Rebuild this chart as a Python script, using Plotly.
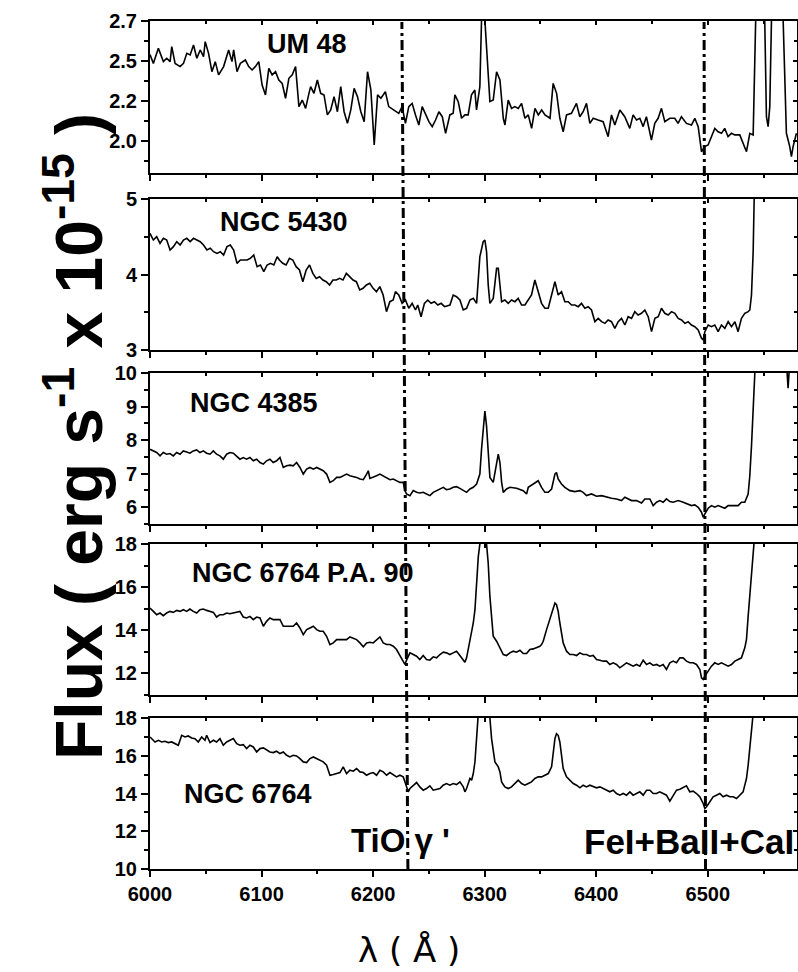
import plotly.graph_objects as go

# ---------------- data ----------------
wl_um48 = [6000, 6003, 6007.5, 6012, 6015, 6018, 6019.5, 6022.5, 6027, 6030, 6033, 6036, 6039, 6042, 6045, 6048, 6049.5, 6052.5, 6055.5, 6058.5,
           6061.5, 6066, 6070.5, 6073.5, 6075, 6078, 6081, 6084, 6085.5, 6088.5, 6091.5, 6094.5, 6097.5, 6100.5, 6103.5, 6106.5, 6109.5, 6112.5, 6115.5, 6118.5,
           6121.5, 6124.5, 6127.5, 6130.5, 6133.5, 6136.5, 6139.5, 6142.5, 6144, 6147, 6150, 6153, 6156, 6159, 6162, 6165, 6168, 6171, 6174, 6177,
           6180, 6183, 6186, 6189, 6192, 6195, 6198, 6201, 6204, 6207, 6211, 6214, 6219, 6223, 6226, 6229, 6232, 6235, 6238, 6241,
           6244, 6247, 6250, 6253, 6256, 6259, 6262, 6265,
           6268.8, 6271.8, 6273.3, 6276.3, 6279.3, 6282.3, 6285.2, 6288.2, 6291.2, 6292.7, 6295.7, 6297.2, 6298.7, 6300.2, 6303.2, 6304.7, 6307.7, 6310.7, 6313.7, 6316.7,
           6318.2, 6321.1, 6324.1, 6327.1, 6330.1, 6333.1, 6336.1, 6339.1, 6342.1, 6345.1, 6348.1, 6351.1, 6354.1, 6358.6, 6361.4, 6364.5, 6367.4, 6370.4, 6373.4, 6377.8,
           6382.3, 6385.3, 6388.3, 6391.3, 6394.3, 6397.3, 6401.7, 6406.2, 6410.7, 6413.7, 6416.7, 6421.2, 6425.6, 6430.1, 6433.1, 6436.1, 6439.1, 6442.1, 6445.0, 6449.5,
           6452.5, 6455.5, 6458.5, 6461.5, 6466.0, 6470.4, 6473.4, 6476.4, 6480.9, 6485.4, 6488.4, 6491.4, 6494.4, 6497.3, 6500.3, 6503.3, 6506.3, 6509.3, 6512.3, 6515.2,
           6518.2, 6521.2, 6524.2, 6528.7, 6531.7, 6534.7, 6537.7, 6540.7, 6543.1, 6546.6, 6549.5, 6551.1, 6552.6, 6554.1, 6555.6, 6557.1, 6561.6, 6566.0, 6567.6, 6570.5,
           6573.5, 6575.0, 6576.5, 6579.5]
fx_um48 = [2.490, 2.435, 2.529, 2.446, 2.467, 2.446, 2.540, 2.435, 2.415, 2.435, 2.498, 2.488, 2.550, 2.467, 2.519, 2.477, 2.571, 2.498, 2.383, 2.446,
           2.363, 2.415, 2.519, 2.446, 2.519, 2.383, 2.435, 2.446, 2.456, 2.415, 2.394, 2.415, 2.446, 2.300, 2.238, 2.404, 2.363, 2.383, 2.331, 2.310,
           2.217, 2.342, 2.363, 2.415, 2.165, 2.206, 2.154, 2.248, 2.290, 2.248, 2.331, 2.248, 2.238, 2.113, 2.144, 2.227, 2.133, 2.290, 2.133, 2.060,
           2.144, 2.279, 2.227, 2.133, 2.071, 2.383, 2.269, 1.925, 2.238, 2.217, 2.258, 2.165, 2.144, 2.123, 2.165, 2.060, 2.165, 2.185, 2.113, 2.050,
           2.165, 2.113, 2.071, 2.040, 2.081, 2.133, 2.102, 1.998,
           2.113, 2.123, 2.238, 2.196, 2.092, 2.113, 2.113, 2.238, 2.269, 2.144, 2.290, 2.706, 3.100, 2.706, 2.310, 2.196, 2.206, 2.383, 2.331, 2.092,
           2.050, 2.206, 2.154, 2.165, 2.154, 2.185, 2.092, 2.113, 2.029, 2.154, 2.113, 2.144, 2.113, 2.092, 2.310, 2.248, 2.092, 2.008, 2.113, 2.123,
           2.185, 2.102, 2.133, 2.185, 2.060, 2.092, 2.081, 2.071, 1.977, 2.113, 2.050, 2.144, 2.102, 2.029, 2.113, 2.081, 2.092, 2.040, 2.102, 1.956,
           2.060, 2.092, 2.154, 2.071, 2.092, 2.092, 2.060, 2.102, 2.060, 2.050, 2.092, 2.040, 1.883, 1.915, 1.925, 1.977, 2.029, 2.008, 1.998, 2.029,
           1.977, 1.998, 1.988, 1.988, 1.935, 1.883, 1.998, 1.988, 2.750, 3.400, 3.000, 2.700, 2.102, 2.040, 2.165, 2.700, 3.600, 3.200, 2.700, 1.998,
           1.915, 1.852, 1.915, 1.998]

wl_n5430 = [6000, 6003, 6006, 6009, 6012, 6015, 6018, 6021, 6024, 6027, 6030, 6033, 6036, 6039, 6042, 6045, 6048, 6051, 6054, 6057,
            6060, 6063, 6066, 6069, 6072, 6075, 6078, 6081, 6084, 6087, 6090, 6093, 6096, 6099, 6102, 6105, 6108, 6111, 6114, 6116,
            6119, 6122, 6125, 6128, 6131, 6134, 6137, 6140, 6143, 6146, 6149, 6152, 6155, 6158, 6161, 6164, 6167, 6170, 6173, 6176,
            6179, 6182, 6185, 6188, 6191, 6194, 6197, 6200, 6203, 6206, 6209, 6212, 6215, 6218, 6220, 6223, 6226, 6229, 6232, 6235,
            6238, 6240, 6243, 6246, 6249, 6252, 6255, 6258, 6261, 6264,
            6268.9, 6271.8, 6274.8, 6277.8, 6280.8, 6283.8, 6286.8, 6289.8, 6292.8, 6295.7, 6298.7, 6300.2, 6301.7, 6303.2, 6304.7, 6307.7, 6310.7, 6312.2, 6313.7, 6315.2,
            6318.1, 6321.1, 6324.1, 6327.1, 6330.1, 6333.1, 6336.1, 6339.1, 6342.0, 6345.0, 6348.0, 6351.0, 6354.0, 6357.0, 6360.0, 6363.0, 6365.9, 6368.9, 6371.9, 6374.9,
            6377.9, 6380.9, 6383.9, 6386.8, 6389.8, 6392.8, 6395.8, 6398.8, 6401.8, 6404.8, 6407.8, 6410.7, 6413.7, 6416.7, 6419.7, 6422.7, 6425.7, 6428.7, 6431.7, 6434.6,
            6437.6, 6440.6, 6443.6, 6446.6, 6449.6, 6452.6, 6455.6, 6458.5, 6461.5, 6464.5, 6467.5, 6470.5, 6473.5, 6476.5, 6479.5, 6482.4, 6485.4, 6488.4, 6491.4, 6494.4,
            6495.9, 6497.4, 6500.4, 6503.3, 6506.3, 6509.3, 6512.3, 6515.3, 6518.3, 6521.3, 6524.3, 6527.2, 6530.2, 6533.2, 6536.2, 6537.7, 6539.2, 6540.7, 6541.6, 6545,
            6560, 6580]
fx_n5430 = [4.545, 4.457, 4.501, 4.413, 4.479, 4.457, 4.325, 4.369, 4.435, 4.391, 4.457, 4.479, 4.435, 4.479, 4.457, 4.435, 4.391, 4.325, 4.347, 4.302,
            4.280, 4.302, 4.258, 4.369, 4.391, 4.325, 4.148, 4.192, 4.192, 4.192, 4.214, 4.258, 4.104, 4.126, 4.037, 4.126, 4.148, 4.126, 4.236, 4.192,
            4.148, 4.126, 4.214, 4.192, 4.104, 4.060, 3.905, 4.060, 4.126, 4.015, 3.949, 3.971, 3.927, 3.905, 3.861, 3.927, 3.927, 3.949, 3.927, 4.015,
            3.971, 3.927, 3.905, 3.795, 3.817, 3.861, 3.883, 3.817, 3.773, 3.839, 3.728, 3.508, 3.640, 3.662, 3.773, 3.728, 3.618, 3.662, 3.552, 3.618,
            3.530, 3.596, 3.441, 3.618, 3.662, 3.618, 3.640, 3.596, 3.618, 3.574,
            3.596, 3.728, 3.706, 3.662, 3.530, 3.552, 3.662, 3.684, 3.618, 4.236, 4.435, 4.457, 4.302, 3.861, 3.618, 3.684, 4.082, 4.082, 3.861, 3.640,
            3.662, 3.618, 3.662, 3.640, 3.684, 3.596, 3.596, 3.662, 3.728, 3.927, 3.773, 3.618, 3.552, 3.552, 3.728, 3.905, 3.728, 3.773, 3.640, 3.640,
            3.596, 3.596, 3.574, 3.618, 3.552, 3.574, 3.530, 3.375, 3.419, 3.375, 3.353, 3.397, 3.375, 3.287, 3.375, 3.419, 3.331, 3.441, 3.419, 3.508,
            3.464, 3.486, 3.530, 3.441, 3.243, 3.419, 3.441, 3.552, 3.486, 3.464, 3.508, 3.486, 3.419, 3.397, 3.353, 3.375, 3.331, 3.309, 3.265, 3.155,
            3.132, 3.243, 3.331, 3.309, 3.331, 3.243, 3.331, 3.287, 3.375, 3.309, 3.375, 3.243, 3.419, 3.486, 3.508, 3.530, 3.728, 4.302, 5.000, 6.5,
            9.0, 8.0]

wl_n4385 = [6000.0, 6003.0, 6006.0, 6009.0, 6011.9, 6014.9, 6017.9, 6020.9, 6023.9, 6026.9, 6029.9, 6032.9, 6035.8, 6038.8, 6041.8, 6044.8, 6047.8, 6050.8, 6053.8, 6056.8,
            6059.7, 6062.7, 6065.7, 6068.7, 6071.7, 6074.7, 6077.7, 6080.6, 6083.6, 6086.6, 6089.6, 6092.6, 6095.6, 6098.6, 6101.6, 6104.5, 6107.5, 6110.5, 6113.5, 6116.5,
            6119.5, 6122.5, 6125.5, 6128.4, 6131.4, 6134.4, 6137.4, 6140.4, 6143.4, 6146.4, 6149.4, 6152.3, 6155.3, 6158.3, 6161.3, 6164.3, 6167.3, 6170.3, 6173.2, 6176.2,
            6179.2, 6182.2, 6185.2, 6188.2, 6191.2, 6194.2, 6195.7, 6197.1, 6200.1, 6203.1, 6206.1,
            6209.1, 6212.1, 6215.1, 6218.1, 6221.0, 6224.0, 6227.0, 6228.5, 6230.0, 6233.0, 6236.0,
            6239.0, 6241.9, 6244.9, 6247.9, 6250.9, 6253.9, 6256.9, 6259.9, 6262.9, 6265.8, 6268.8,
            6271.8, 6274.8, 6277.8, 6280.8, 6283.8, 6286.8, 6289.8, 6292.8, 6295.7, 6297.2, 6298.7, 6300.2, 6301.7, 6303.2, 6304.7, 6307.7, 6310.7, 6312.2, 6313.7, 6315.2,
            6316.7, 6319.6, 6322.6, 6328.6, 6334.6, 6337.6, 6339.1, 6342.0, 6345.0, 6348.0, 6351.0, 6354.0, 6357.0, 6360.0, 6363.0, 6364.4, 6365.9, 6368.9, 6371.9, 6376.4,
            6380.9, 6385.4, 6388.3, 6391.3, 6395.8, 6400.3, 6404.8, 6409.3, 6413.7, 6418.2, 6422.7, 6425.7, 6428.7, 6431.7, 6436.1, 6440.6, 6443.6, 6448.1, 6451.1, 6454.1,
            6457.0, 6460.0, 6463.0, 6466.0, 6469.0, 6473.5, 6478.0, 6482.4, 6485.4, 6488.4, 6491.4, 6494.4, 6495.9, 6497.4, 6500.4, 6503.3, 6506.3, 6509.3, 6512.3, 6515.3,
            6518.3, 6521.3, 6524.3, 6527.2, 6530.2, 6533.2, 6536.2, 6537.7, 6539.2, 6540.7, 6542.2, 6550, 6565, 6570, 6572, 6574, 6580]
fx_n4385 = [7.728, 7.679, 7.630, 7.531, 7.630, 7.580, 7.600, 7.531, 7.630, 7.580, 7.679, 7.649, 7.610, 7.679, 7.709, 7.630, 7.679, 7.610, 7.580, 7.679,
            7.580, 7.531, 7.432, 7.580, 7.630, 7.610, 7.531, 7.432, 7.481, 7.432, 7.481, 7.383, 7.432, 7.333, 7.284, 7.383, 7.432, 7.333, 7.383, 7.481,
            7.185, 7.235, 7.254, 7.235, 7.333, 7.185, 6.988, 7.136, 7.185, 7.136, 7.185, 7.136, 7.086, 6.988, 6.741, 6.790, 6.889, 6.889, 6.938, 6.988,
            6.938, 6.919, 6.889, 6.840, 6.820, 6.988, 7.086, 6.859, 6.889, 6.938, 6.988,
            6.938, 6.889, 6.820, 6.840, 6.790, 6.741, 6.741, 6.494, 6.395, 6.346, 6.494,
            6.444, 6.425, 6.444, 6.395, 6.346, 6.444, 6.494, 6.543, 6.593, 6.523, 6.543,
            6.593, 6.612, 6.563, 6.494, 6.444, 6.543, 6.593, 6.691, 6.988, 7.728, 8.420, 8.864, 8.420, 7.531, 6.889, 6.741, 7.235, 7.580, 7.333, 6.741,
            6.444, 6.543, 6.593, 6.563, 6.494, 6.395, 6.593, 6.662, 6.741, 6.790, 6.593, 6.444, 6.444, 6.543, 6.988, 7.037, 6.840, 6.691, 6.593, 6.494,
            6.464, 6.494, 6.444, 6.346, 6.395, 6.326, 6.346, 6.296, 6.267, 6.247, 6.198, 6.296, 6.247, 6.198, 6.198, 6.128, 6.247, 6.247, 6.049, 6.148,
            6.198, 6.148, 6.247, 6.168, 6.148, 6.198, 6.148, 6.099, 6.049, 6.069, 6.000, 5.852, 5.704, 5.802, 5.970, 6.049, 6.000, 6.049, 6.000, 5.970,
            6.049, 6.049, 6.049, 6.049, 6.148, 6.148, 6.395, 6.938, 7.827, 9.210, 10.000, 12.0, 14.0, 10.6, 9.55, 10.6, 12.0]

wl_n6764pa = [6000.0, 6003.0, 6006.0, 6009.0, 6011.9, 6014.9, 6017.9, 6020.9, 6023.9, 6026.9, 6029.9, 6032.9, 6035.8, 6038.8, 6041.8, 6044.8, 6047.8, 6050.8, 6053.8, 6056.8,
              6059.7, 6062.7, 6065.7, 6068.7, 6071.7, 6074.7, 6077.7, 6080.6, 6083.6, 6086.6, 6089.6, 6092.6, 6095.6, 6098.6, 6101.6, 6104.5, 6107.5, 6110.5, 6113.5, 6116.5,
              6119.5, 6122.5, 6125.5, 6128.4, 6131.4, 6134.4, 6137.4, 6140.4, 6143.4, 6146.4, 6149.4, 6152.3, 6155.3, 6158.3, 6161.3, 6164.3, 6167.3, 6170.3, 6173.2, 6176.2,
              6179.2, 6182.2, 6185.2, 6188.2, 6191.2, 6194.2, 6197.1, 6200.1, 6203.1, 6206.1, 6209.1, 6212.1, 6215.1, 6218.1, 6221.0, 6224.0, 6227.0, 6228.5,
              6230.0, 6233.0, 6236.0, 6239.0, 6241.9, 6244.9, 6247.9, 6250.9, 6253.9, 6256.9, 6259.9, 6262.9, 6265.8, 6268.8,
              6271.8, 6274.8, 6277.8, 6280.8, 6282.3, 6283.8, 6286.8, 6289.8, 6291.3, 6292.8, 6294.3, 6295.7, 6298.7, 6301.7, 6303.2, 6304.7, 6307.7, 6310.7, 6313.7, 6316.7,
              6319.6, 6322.6, 6325.6, 6328.6, 6331.6, 6334.6, 6337.6, 6340.5, 6343.5, 6346.5, 6349.5, 6351.0, 6352.5, 6355.5, 6358.5, 6361.5, 6363.0, 6364.4, 6365.9, 6367.4,
              6370.4, 6373.4, 6376.4, 6379.4, 6382.4, 6385.4, 6388.3, 6391.3, 6394.3, 6397.3, 6400.3, 6403.3, 6406.3, 6409.3, 6412.2, 6415.2, 6418.2, 6421.2, 6424.2, 6427.2,
              6430.2, 6433.1, 6436.1, 6439.1, 6442.1, 6445.1, 6448.1, 6451.1, 6454.1, 6457.0, 6460.0, 6463.0, 6466.0, 6469.0, 6472.0, 6475.0, 6477.9, 6480.9, 6483.9, 6486.9,
              6489.9, 6492.9, 6494.4, 6495.9, 6497.4, 6500.4, 6503.3, 6506.3, 6509.3, 6512.3, 6515.3, 6518.3, 6521.3, 6524.3, 6527.2, 6530.2, 6533.2, 6534.7, 6536.2, 6537.7,
              6539.2, 6545, 6560, 6580]
fx_n6764pa = [15.031, 14.877, 14.723, 14.800, 14.677, 14.800, 14.877, 14.831, 14.923, 14.877, 14.954, 14.877, 14.985, 14.877, 14.800, 14.954, 14.985, 14.923, 14.877, 14.831,
              14.615, 14.723, 14.723, 14.800, 14.769, 14.800, 14.831, 14.877, 14.615, 14.569, 14.646, 14.492, 14.615, 14.569, 14.185, 14.415, 14.569, 14.492, 14.492, 14.492,
              14.185, 14.185, 14.185, 14.185, 14.338, 14.108, 13.800, 14.031, 14.108, 14.185, 14.031, 13.954, 13.954, 13.723, 13.338, 13.415, 13.569, 13.569, 13.600, 13.569,
              13.692, 13.646, 13.569, 13.415, 13.231, 13.415, 13.446, 13.415, 13.569, 13.692, 13.415, 13.338, 13.338, 13.262, 13.108, 12.800, 12.523, 12.415,
              12.615, 12.954, 12.877, 12.800, 12.646, 12.831, 12.646, 12.615, 12.769, 12.723, 12.877, 12.985, 12.954, 12.877,
              12.954, 13.031, 12.831, 12.646, 12.523, 12.723, 13.569, 14.338, 14.954, 16.338, 17.415, 18.0, 21.0, 18.0, 17.108, 15.569, 13.723, 13.492, 13.185, 12.877,
              12.831, 12.954, 13.031, 12.985, 13.077, 12.923, 12.923, 13.108, 13.138, 13.185, 13.262, 13.338, 13.492, 14.031, 14.569, 15.031, 15.262, 15.185, 14.877, 14.338,
              13.415, 13.031, 12.877, 12.877, 12.831, 12.954, 12.877, 12.877, 12.800, 12.831, 12.646, 12.615, 12.569, 12.569, 12.415, 12.492, 12.415, 12.262, 12.369, 12.492,
              12.415, 12.338, 12.415, 12.338, 12.615, 12.415, 12.492, 12.369, 12.415, 12.338, 12.415, 12.185, 12.492, 12.569, 12.492, 12.723, 12.723, 12.569, 12.492, 12.492,
              12.415, 12.185, 11.800, 11.723, 11.877, 12.108, 12.338, 12.492, 12.415, 12.492, 12.415, 12.338, 12.415, 12.569, 12.646, 12.723, 13.185, 13.569, 14.646, 16.338,
              18.0, 22.0, 30.0, 25.0]

wl_n6764 = [6000, 6004.5, 6007.5, 6010.5, 6013.4, 6016.4, 6019.4, 6022.4, 6025.4, 6028.4, 6031.4, 6034.3, 6037.3, 6040.3, 6043.3, 6046.3, 6049.3, 6050.8, 6053.8, 6056.8,
            6059.7, 6062.7, 6065.7, 6068.7, 6071.7, 6074.7, 6077.7, 6080.6, 6083.6, 6086.6, 6089.6, 6092.6, 6095.6, 6098.6, 6101.6, 6104.5, 6107.5, 6110.5, 6113.5, 6116.5,
            6119.5, 6122.5, 6125.4, 6128.4, 6131.4, 6134.4, 6137.4, 6140.4, 6143.4, 6146.4, 6149.3, 6152.3, 6155.3, 6158.3, 6161.3, 6164.3, 6167.3, 6170.3, 6173.2, 6176.2,
            6179.2, 6182.2, 6185.2, 6188.2, 6191.2, 6194.1, 6197.1, 6200.1, 6203.1, 6206.1, 6209.1, 6212.1, 6215.1, 6218.0, 6221.0, 6224.0, 6227.0, 6228.5, 6230.0, 6231.5,
            6233.0, 6236.0, 6239.0, 6241.9, 6244.9, 6247.9, 6250.9, 6253.9, 6256.9, 6259.9, 6262.8, 6265.8, 6268.8,
            6271.8, 6274.8, 6277.8, 6280.8, 6282.3, 6283.8, 6286.8, 6288.3, 6289.8, 6291.3, 6292.8, 6294.3, 6298.7, 6304.7, 6306.2, 6309.2, 6312.2, 6313.7, 6315.2, 6318.1,
            6321.1, 6324.1, 6327.1, 6330.1, 6333.1, 6336.1, 6339.1, 6342.0, 6345.0, 6348.0, 6351.0, 6354.0, 6357.0, 6360.0, 6361.5, 6363.0, 6364.4, 6365.9, 6367.4, 6368.9,
            6370.4, 6373.4, 6376.4, 6379.4, 6382.4, 6385.4, 6388.3, 6391.3, 6394.3, 6397.3, 6400.3, 6403.3, 6406.3, 6409.3, 6412.2, 6415.2, 6418.2, 6421.2, 6424.2, 6427.2,
            6430.2, 6433.1, 6436.1, 6439.1, 6442.1, 6445.1, 6448.1, 6451.1, 6454.1, 6457.0, 6460.0, 6463.0, 6466.0, 6469.0, 6472.0, 6475.0, 6477.9, 6480.9, 6483.9, 6486.9,
            6489.9, 6492.9, 6495.9, 6497.4, 6498.9, 6501.9, 6504.8, 6507.8, 6510.8, 6513.8, 6516.8, 6519.8, 6522.8, 6525.8, 6528.7, 6531.7, 6533.2, 6534.7, 6536.2, 6537.7,
            6539.2, 6540.7, 6545, 6560, 6580]
fx_n6764 = [16.996, 16.731, 16.819, 16.731, 16.767, 16.696, 16.731, 16.643, 16.555, 17.084, 16.996, 17.048, 16.943, 16.907, 16.731, 16.996, 16.819, 17.084, 16.696, 16.819,
            16.731, 16.907, 16.555, 16.731, 16.819, 16.907, 16.643, 16.555, 16.590, 16.379, 16.555, 16.467, 16.203, 16.379, 16.414, 16.291, 16.203, 16.167, 16.238, 16.115,
            16.203, 16.026, 15.938, 16.026, 15.991, 15.850, 15.674, 15.639, 15.850, 15.938, 15.850, 15.762, 15.674, 15.498, 14.969, 15.004, 15.057, 15.110, 15.410, 15.057,
            15.233, 15.181, 15.322, 15.145, 15.110, 14.969, 15.057, 15.110, 14.969, 15.233, 15.145, 14.969, 15.110, 15.004, 14.881, 14.969, 14.881, 14.617, 14.352, 14.088,
            14.264, 14.441, 14.581, 14.352, 14.176, 14.264, 14.405, 14.176, 14.229, 14.264, 14.441, 14.529, 14.441,
            14.529, 14.476, 14.617, 14.352, 14.088, 14.264, 14.793, 14.705, 15.057, 15.674, 16.907, 18.0, 22.0, 18.0, 16.907, 15.674, 15.410, 15.145, 14.617, 14.352,
            14.264, 14.352, 14.529, 14.705, 14.529, 14.441, 14.529, 14.617, 14.793, 14.881, 14.881, 14.969, 15.057, 15.410, 16.115, 16.907, 17.172, 17.084, 16.731, 15.938,
            15.322, 14.881, 14.705, 14.529, 14.441, 14.300, 14.441, 14.352, 14.441, 14.352, 14.300, 14.352, 14.264, 14.176, 14.088, 14.176, 14.000, 13.912, 14.000, 13.912,
            14.088, 13.912, 14.000, 14.088, 13.912, 14.176, 14.176, 14.000, 14.000, 14.088, 14.000, 13.912, 13.595, 13.912, 14.176, 14.229, 14.300, 14.405, 14.088, 14.123,
            14.000, 13.824, 13.471, 13.207, 13.295, 13.559, 13.824, 13.912, 14.000, 13.824, 13.912, 13.824, 13.824, 13.736, 13.912, 14.088, 14.441, 14.793, 15.498, 16.379,
            17.436, 18.0, 22.0, 30.0, 25.0]

panel_names = ["UM 48", "NGC 5430", "NGC 4385", "NGC 6764 P.A. 90", "NGC 6764"]
panel_wl = [wl_um48, wl_n5430, wl_n4385, wl_n6764pa, wl_n6764]
panel_fx = [fx_um48, fx_n5430, fx_n4385, fx_n6764pa, fx_n6764]

x_range = [6000, 6580]
x_major = [6000, 6100, 6200, 6300, 6400, 6500]
x_minor = [6050, 6150, 6250, 6350, 6450, 6550]

y_ranges = [[1.75, 2.7], [3, 5], [5.5, 10], [11, 18], [10, 18]]
y_major = [[1.95, 2.2, 2.45, 2.7], [3, 4, 5], [6, 7, 8, 9, 10], [12, 14, 16, 18], [10, 12, 14, 16, 18]]
y_major_text = [["2.0", "2.2", "2.5", "2.7"], ["3", "4", "5"], ["6", "7", "8", "9", "10"],
                ["12", "14", "16", "18"], ["10", "12", "14", "16", "18"]]
y_minor = [[1.825, 2.075, 2.325, 2.575], [3.5, 4.5], [5.5, 6.5, 7.5, 8.5, 9.5], [11, 13, 15, 17], [11, 13, 15, 17]]

# feature lines (wavelength at bottom and top of the stack; drawn slightly slanted as in the original)
feature_wl_bottom = [6231.2, 6498.0]
feature_wl_top = [6225.8, 6496.7]

for a, b in zip(panel_wl, panel_fx):
    assert len(a) == len(b), (len(a), len(b))

# ---------------- layout geometry ----------------
W, H = 798, 972
FONT = "Liberation Sans, Arial, Helvetica, sans-serif"
panel_px = [(21, 173), (199, 350), (373, 524), (544, 695), (718, 869)]
x_dom = [150 / W, 797 / W]

fig = go.Figure()
layout = dict(
    width=W, height=H, margin=dict(l=0, r=0, t=0, b=0, pad=0, autoexpand=False),
    paper_bgcolor="white", plot_bgcolor="white", showlegend=False, hovermode=False,
    font=dict(family=FONT, color="black"),
)

for i in range(5):
    k = i + 1
    ko = i + 6
    top, bot = panel_px[i]
    ydom = [1 - bot / H, 1 - top / H]
    fig.add_trace(go.Scatter(x=panel_wl[i], y=panel_fx[i], mode="lines",
                             line=dict(color="black", width=1.6),
                             xaxis=f"x{k}", yaxis=f"y{k}"))
    fig.add_trace(go.Scatter(x=[None], y=[None], mode="lines",
                             xaxis=f"x{ko}", yaxis=f"y{ko}"))
    layout[f"xaxis{k}"] = dict(
        domain=x_dom, anchor=f"y{k}", range=x_range, automargin=False,
        tickmode="array", tickvals=x_major, ticktext=[str(v) for v in x_major],
        ticks="outside", ticklen=6, tickwidth=2, tickcolor="black",
        minor=dict(tickmode="array", tickvals=x_minor, ticks="outside", ticklen=3, tickwidth=1.5, tickcolor="black"),
        showticklabels=(k == 5), tickfont=dict(family=FONT, size=20, color="black", weight="bold"),
        showline=True, linewidth=2, linecolor="black", mirror=True,
        showgrid=False, zeroline=False,
    )
    layout[f"xaxis{ko}"] = dict(
        overlaying=f"x{k}", anchor=f"y{ko}", side="top", range=x_range, automargin=False,
        tickmode="array", tickvals=x_major, ticks="inside", ticklen=4, tickwidth=1.5, tickcolor="black",
        minor=dict(tickmode="array", tickvals=x_minor, ticks="inside", ticklen=3, tickwidth=1.5, tickcolor="black"),
        showticklabels=False, showline=False, showgrid=False, zeroline=False,
    )
    layout[f"yaxis{k}"] = dict(
        domain=ydom, anchor=f"x{k}", range=y_ranges[i], automargin=False,
        tickmode="array", tickvals=y_major[i], ticktext=y_major_text[i],
        ticks="outside", ticklen=7, tickwidth=2, tickcolor="black",
        minor=dict(tickmode="array", tickvals=y_minor[i], ticks="outside", ticklen=4, tickwidth=1.5, tickcolor="black"),
        tickfont=dict(family=FONT, size=20, color="black", weight="bold"),
        showline=True, linewidth=2, linecolor="black", mirror=True,
        showgrid=False, zeroline=False,
    )
    layout[f"yaxis{ko}"] = dict(
        overlaying=f"y{k}", anchor=f"x{ko}", side="right", range=y_ranges[i], automargin=False,
        tickmode="array", tickvals=y_major[i], ticks="inside", ticklen=4, tickwidth=1.5, tickcolor="black",
        minor=dict(tickmode="array", tickvals=y_minor[i], ticks="inside", ticklen=3, tickwidth=1.5, tickcolor="black"),
        showticklabels=False, showline=False, showgrid=False, zeroline=False,
    )

fig.update_layout(**layout)

# vertical dash-dot feature markers spanning all panels
y_bot = 1 - 869 / H
y_top = 1 - 22 / H
for xb, xt in zip(feature_wl_bottom, feature_wl_top):
    fig.add_shape(type="line", xref="x5", yref="paper", x0=xb, x1=xt, y0=y_bot, y1=y_top,
                  line=dict(color="black", width=3, dash="10px,4px,3px,4px"), layer="above")

# panel labels
label_pos = [(307, 44), (284, 222), (254, 403), (303, 573), (248, 794)]
for name, (px, py) in zip(panel_names, label_pos):
    fig.add_annotation(text=name, xref="paper", yref="paper", x=px / W, y=1 - py / H,
                       xanchor="center", yanchor="middle", showarrow=False,
                       font=dict(family=FONT, size=27, color="black", weight="bold"))

# feature labels
fig.add_annotation(text="TiO γ '", xref="paper", yref="paper", x=400 / W, y=1 - 840 / H,
                   xanchor="center", yanchor="middle", showarrow=False,
                   font=dict(family=FONT, size=33, color="black", weight="bold"))
fig.add_annotation(text="FeI+BaII+CaI", xref="paper", yref="paper", x=796 / W, y=1 - 841 / H,
                   xanchor="right", yanchor="middle", showarrow=False,
                   font=dict(family=FONT, size=35, color="black", weight="bold"))

# axis titles
fig.add_annotation(text="Flux ( erg s<sup>-1</sup> x 10<sup>-15</sup> )", xref="paper", yref="paper",
                   x=74 / W, y=1 - 437 / H, xanchor="center", yanchor="middle", textangle=-90,
                   showarrow=False, font=dict(family=FONT, size=66, color="black", weight="bold"))
fig.add_annotation(text="λ ( Å )", xref="paper", yref="paper", x=409 / W, y=1 - 950 / H,
                   xanchor="center", yanchor="middle", showarrow=False,
                   font=dict(family="DejaVu Sans, sans-serif", size=34, color="black"))

fig.write_html("out.html", config={"displayModeBar": False},
               post_script="document.body.style.margin='0px';document.body.style.padding='0px';")
